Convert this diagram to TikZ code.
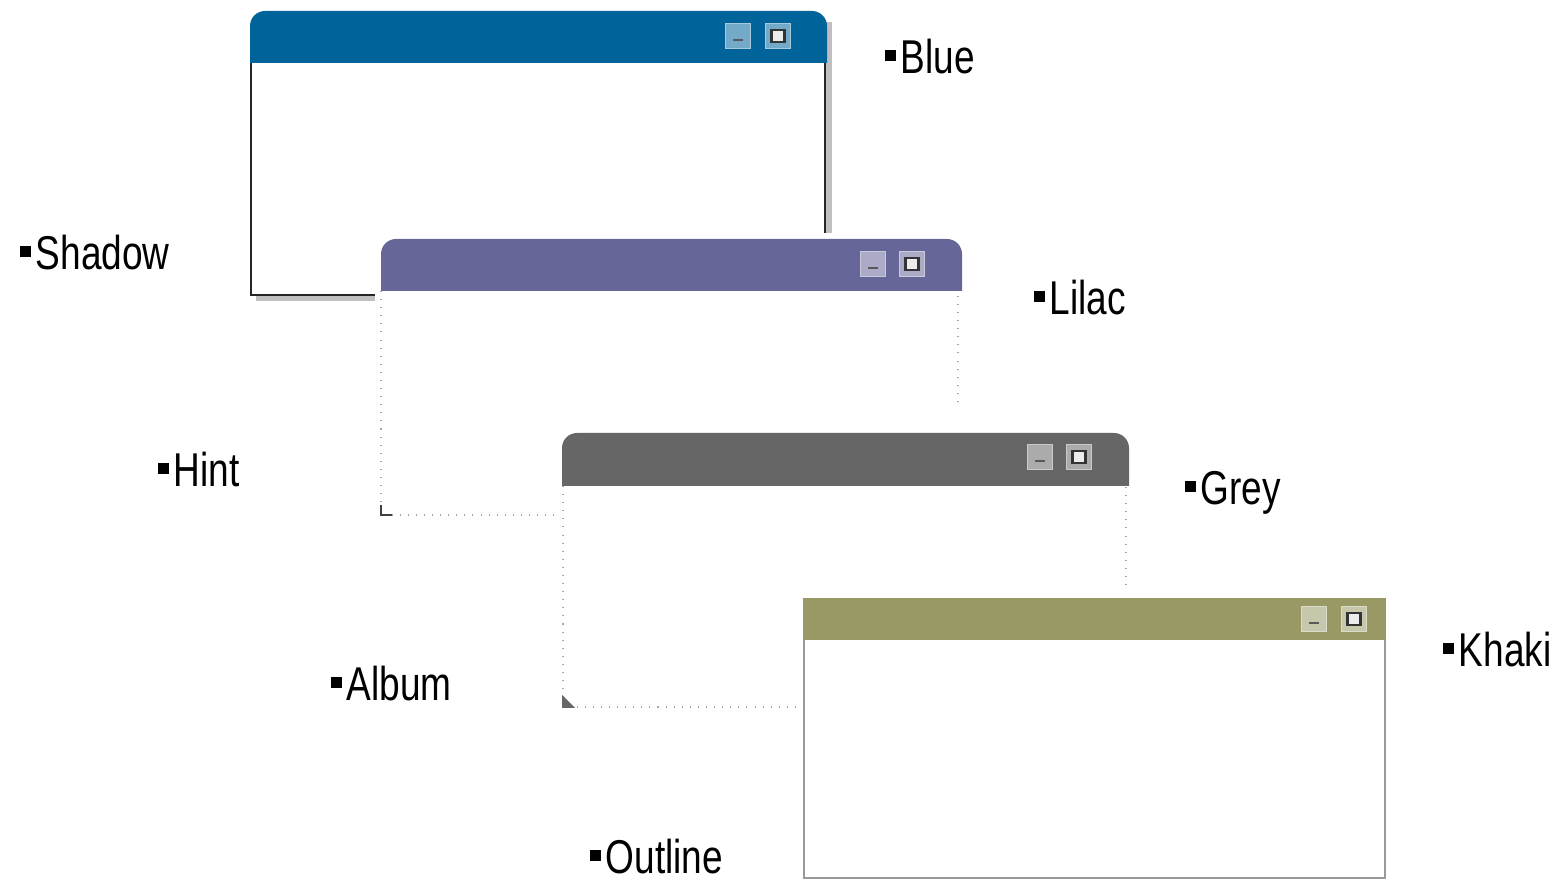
\documentclass[tikz,border=0pt]{standalone}
\usepackage{fontspec}
\setmainfont[FakeStretch=0.78]{Liberation Sans}
\definecolor{bluebar}{RGB}{0,100,155}
\definecolor{lilacbar}{RGB}{102,102,153}
\definecolor{greybar}{RGB}{102,102,102}
\definecolor{khakibar}{RGB}{153,153,102}
\newcommand{\sqbullet}{\rule[0.13cm]{0.11cm}{0.11cm}\hspace{0.05cm}}
\tikzset{
  lbl/.style={anchor=base west, inner sep=0pt, font=\fontsize{13.5}{16}\selectfont},
  btn/.style={draw=#1!35!white, fill=#1!55!white, line width=0.45pt, minimum size=0.25cm, inner sep=0pt},
  minbtn/.style={btn=#1, path picture={\draw[line width=0.6pt, black!65] ([xshift=-0.05cm,yshift=-0.04cm]path picture bounding box.center) -- ++(0.1cm,0);}},
  maxbtn/.style={btn=#1, path picture={\draw[line width=0.6pt, black!80, fill=white!85!gray] ([xshift=-0.065cm,yshift=-0.06cm]path picture bounding box.center) rectangle ++(0.13cm,0.12cm);}},
  cover/.style={fill=white},
  hintline/.style={draw=gray!70, dotted, line width=0.3pt},
}
\begin{document}
\begin{tikzpicture}[x=0.01cm, y=-0.01cm]
\useasboundingbox[fill=white] (0,0) rectangle (1560,880);
% blue window, with shadow
\fill[gray!50] (256,22) rectangle (832,301);
\fill[white] (251,63) rectangle (825,295);
\fill[bluebar] (250,63) [rounded corners=0.15cm] -- (250,11) -- (827,11) [sharp corners] -- (827,63) -- cycle;
\draw[line width=0.75pt, black!85] (251,63) -- (251,295) -- (825,295) -- (825,63);
\node[minbtn=bluebar] (bmin) at (738,36) {};
\node[maxbtn=bluebar] (bmax) at (778,36) {};
% lilac window, hint border
\fill[cover] (375,233) rectangle (968,521);
\fill[lilacbar] (381,291) [rounded corners=0.15cm] -- (381,239) -- (962,239) [sharp corners] -- (962,291) -- cycle;
\draw[hintline] (381,291) -- (381,515) -- (958,515) -- (958,291);
\draw[line width=0.35pt, black!75] (381,505) -- (381,515) -- (392,515);
\node[minbtn=lilacbar] (lmin) at (873,264) {};
\node[maxbtn=lilacbar] (lmax) at (912,264) {};
% grey window, album border
\fill[cover] (555,408) rectangle (1135,713);
\fill[greybar] (562,486) [rounded corners=0.15cm] -- (562,433) -- (1129,433) [sharp corners] -- (1129,486) -- cycle;
\draw[hintline] (563,486) -- (563,707) -- (1126,707) -- (1126,486);
\fill[greybar] (562,695) -- (562,708) -- (575,708) -- cycle;
\node[minbtn=greybar] (gmin) at (1040,457) {};
\node[maxbtn=greybar] (gmax) at (1079,457) {};
% khaki window, outline border
\fill[cover] (797,592) rectangle (1392,880);
\fill[khakibar] (803,598) rectangle (1386,640);
\draw[line width=0.6pt, gray!80] (804,640) -- (804,878) -- (1385,878) -- (1385,640);
\node[minbtn=khakibar] (kmin) at (1314,619) {};
\node[maxbtn=khakibar] (kmax) at (1354,619) {};
% labels
\node[lbl] (blue) at (884,74) {\sqbullet Blue};
\node[lbl] (shadow) at (19,270) {\sqbullet Shadow};
\node[lbl] (lilac) at (1033,315) {\sqbullet Lilac};
\node[lbl] (hint) at (157,487) {\sqbullet Hint};
\node[lbl] (grey) at (1184,505) {\sqbullet Grey};
\node[lbl] (album) at (330,701) {\sqbullet Album};
\node[lbl] (khaki) at (1442,667) {\sqbullet Khaki};
\node[lbl] (outline) at (589,874) {\sqbullet Outline};
\end{tikzpicture}
\end{document}
